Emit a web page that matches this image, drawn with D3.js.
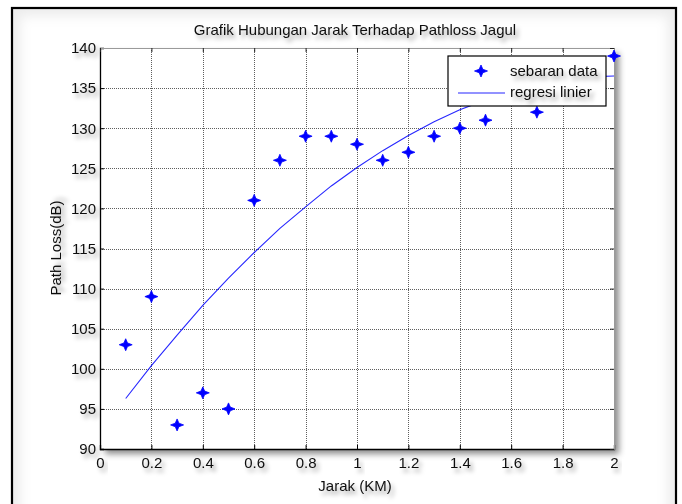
<!DOCTYPE html>
<html>
<head>
<meta charset="utf-8">
<script src="https://cdn.jsdelivr.net/npm/d3@7"></script>
<style>
  html, body { margin: 0; padding: 0; background: #fff; }
  svg { display: block; }
  text { font-family: "Liberation Sans", Arial, sans-serif; fill: #111; }
</style>
</head>
<body>
<svg id="chart" width="682" height="504"></svg>
<script>
// Measured distance (km) and path loss (dB)
const distance = [0.1, 0.2, 0.3, 0.4, 0.5, 0.6, 0.7, 0.8, 0.9, 1.0,
                  1.1, 1.2, 1.3, 1.4, 1.5, 1.6, 1.7, 1.8, 1.9, 2.0];
const pathLoss = [103, 109, 93, 97, 95, 121, 126, 129, 129, 128,
                  126, 127, 129, 130, 131, 134, 132, 136, 137, 139];
// Regression curve evaluated at the same distances
const regression = [96.3, 100.4, 104.2, 107.9, 111.3, 114.5, 117.5, 120.2, 122.8, 125.1,
                    127.2, 129.1, 130.8, 132.3, 133.5, 134.5, 135.4, 136.0, 136.4, 136.5];

const xTicks = [0, 0.2, 0.4, 0.6, 0.8, 1, 1.2, 1.4, 1.6, 1.8, 2];
const yTicks = [90, 95, 100, 105, 110, 115, 120, 125, 130, 135, 140];

const titleText = "Grafik Hubungan Jarak Terhadap Pathloss Jagul";
const xLabelText = "Jarak (KM)";
const yLabelText = "Path Loss(dB)";
const legendLabels = ["sebaran data", "regresi linier"];

const svg = d3.select("#chart");
const blue = "#0000ff";
const fontSize = 15;

const plot = { left: 100, right: 614, top: 48, bottom: 449 };

const x = d3.scaleLinear().domain([0, 2]).range([plot.left, plot.right]);
const y = d3.scaleLinear().domain([90, 140]).range([plot.bottom, plot.top]);

// Filters: drop shadows for text and the axes box, inner shading of the frame
const defs = svg.append("defs");
const ts = defs.append("filter").attr("id", "textShadow")
  .attr("x", "-20%").attr("y", "-40%").attr("width", "150%").attr("height", "200%");
ts.append("feDropShadow").attr("dx", 3).attr("dy", 4).attr("stdDeviation", 2.2)
  .attr("flood-color", "#000").attr("flood-opacity", 0.35);

const bs = defs.append("filter").attr("id", "boxShadow")
  .attr("x", "-5%").attr("y", "-5%").attr("width", "115%").attr("height", "115%");
bs.append("feDropShadow").attr("dx", 5).attr("dy", 5).attr("stdDeviation", 3)
  .attr("flood-color", "#000").attr("flood-opacity", 0.45);

const soft = defs.append("filter").attr("id", "soft");
soft.append("feGaussianBlur").attr("stdDeviation", 0.7);

const inner = defs.append("filter").attr("id", "innerShade")
  .attr("x", "-5%").attr("y", "-5%").attr("width", "110%").attr("height", "110%");
inner.append("feGaussianBlur").attr("stdDeviation", 6);

// Figure frame
svg.append("rect").attr("x", 12).attr("y", 8).attr("width", 664).attr("height", 520)
  .attr("fill", "#ececec");
svg.append("rect").attr("x", 20).attr("y", 16).attr("width", 648).attr("height", 504)
  .attr("fill", "#fff").attr("filter", "url(#innerShade)");
svg.append("rect").attr("x", 12).attr("y", 8).attr("width", 664).attr("height", 520)
  .attr("fill", "none").attr("stroke", "#000").attr("stroke-width", 2.2);

// Axes background with shadow
svg.append("rect")
  .attr("x", plot.left).attr("y", plot.top)
  .attr("width", plot.right - plot.left).attr("height", plot.bottom - plot.top)
  .attr("fill", "#fff").attr("filter", "url(#boxShadow)");

// Dotted grid
const grid = svg.append("g").attr("stroke", "#5e5e5e").attr("stroke-width", 1)
  .attr("stroke-dasharray", "1,1").attr("shape-rendering", "crispEdges");
grid.selectAll(".gx").data(xTicks.slice(1)).join("line")
  .attr("x1", d => Math.round(x(d)) + 0.5).attr("x2", d => Math.round(x(d)) + 0.5)
  .attr("y1", plot.top).attr("y2", plot.bottom);
grid.selectAll(".gy").data(yTicks.slice(1)).join("line")
  .attr("y1", d => Math.round(y(d)) + 0.5).attr("y2", d => Math.round(y(d)) + 0.5)
  .attr("x1", plot.left).attr("x2", plot.right);

// Axes (ticks pointing inward)
const xAxis = svg.append("g").attr("transform", `translate(0,${plot.bottom})`)
  .call(d3.axisBottom(x).tickValues(xTicks).tickSize(-4).tickPadding(8)
    .tickFormat(d => d3.format("")(+d.toFixed(1))));
const yAxis = svg.append("g").attr("transform", `translate(${plot.left},0)`)
  .call(d3.axisLeft(y).tickValues(yTicks).tickSize(-4).tickPadding(4));
const xTop = svg.append("g").attr("transform", `translate(0,${plot.top})`)
  .call(d3.axisTop(x).tickValues(xTicks).tickSize(-4).tickFormat(""));
const yRight = svg.append("g").attr("transform", `translate(${plot.right},0)`)
  .call(d3.axisRight(y).tickValues(yTicks).tickSize(-4).tickFormat(""));

[xAxis, yAxis].forEach(g => {
  g.select(".domain").attr("stroke", "#000").attr("stroke-width", 1.3);
  g.selectAll(".tick line").attr("stroke", "#000");
  g.selectAll(".tick text").attr("font-size", fontSize)
    .attr("font-family", "Liberation Sans, Arial, sans-serif")
    .attr("fill", "#111").attr("filter", "url(#textShadow)");
});
[xTop, yRight].forEach(g => {
  g.select(".domain").attr("stroke", "#9a9a9a").attr("stroke-width", 1);
  g.selectAll(".tick line").attr("stroke", "#222");
});

// Regression line
svg.append("path")
  .datum(distance.map((d, i) => [d, regression[i]]))
  .attr("fill", "none").attr("stroke", blue).attr("stroke-width", 1.1)
  .attr("stroke-opacity", 0.85)
  .attr("d", d3.line().x(d => x(d[0])).y(d => y(d[1])));

// Scatter markers (four-pointed star)
const star = "M0,-6 L1.8,-1.8 L6.5,0 L1.8,1.8 L0,6 L-1.8,1.8 L-6.5,0 L-1.8,-1.8 Z";
svg.append("g").selectAll("path").data(distance).join("path")
  .attr("transform", (d, i) => `translate(${x(d)},${y(pathLoss[i])})`)
  .attr("d", star).attr("fill", blue).attr("stroke", blue).attr("stroke-width", 0.8)
  .attr("filter", "url(#soft)");

// Legend
const lg = svg.append("g").attr("transform", "translate(448,56)");
lg.append("rect").attr("width", 158).attr("height", 50)
  .attr("fill", "#fff").attr("stroke", "#000").attr("stroke-width", 1.2);
lg.append("path").attr("transform", "translate(33,15)").attr("d", star)
  .attr("fill", blue).attr("stroke", blue).attr("stroke-width", 0.8).attr("filter", "url(#soft)");
lg.append("line").attr("x1", 10).attr("x2", 57).attr("y1", 37).attr("y2", 37)
  .attr("stroke", blue).attr("stroke-width", 1.1).attr("stroke-opacity", 0.85);
lg.selectAll("text").data(legendLabels).join("text")
  .attr("x", 62).attr("y", (d, i) => 20 + i * 21)
  .attr("font-size", fontSize).attr("filter", "url(#textShadow)")
  .text(d => d);

// Title and axis labels
svg.append("text").attr("x", 355).attr("y", 35).attr("text-anchor", "middle")
  .attr("font-size", fontSize).attr("filter", "url(#textShadow)").text(titleText);
svg.append("text").attr("x", 355).attr("y", 491).attr("text-anchor", "middle")
  .attr("font-size", fontSize).attr("filter", "url(#textShadow)").text(xLabelText);
svg.append("text").attr("transform", "translate(61,248) rotate(-90)")
  .attr("text-anchor", "middle").attr("font-size", fontSize)
  .attr("filter", "url(#textShadow)").text(yLabelText);
</script>
</body>
</html>
